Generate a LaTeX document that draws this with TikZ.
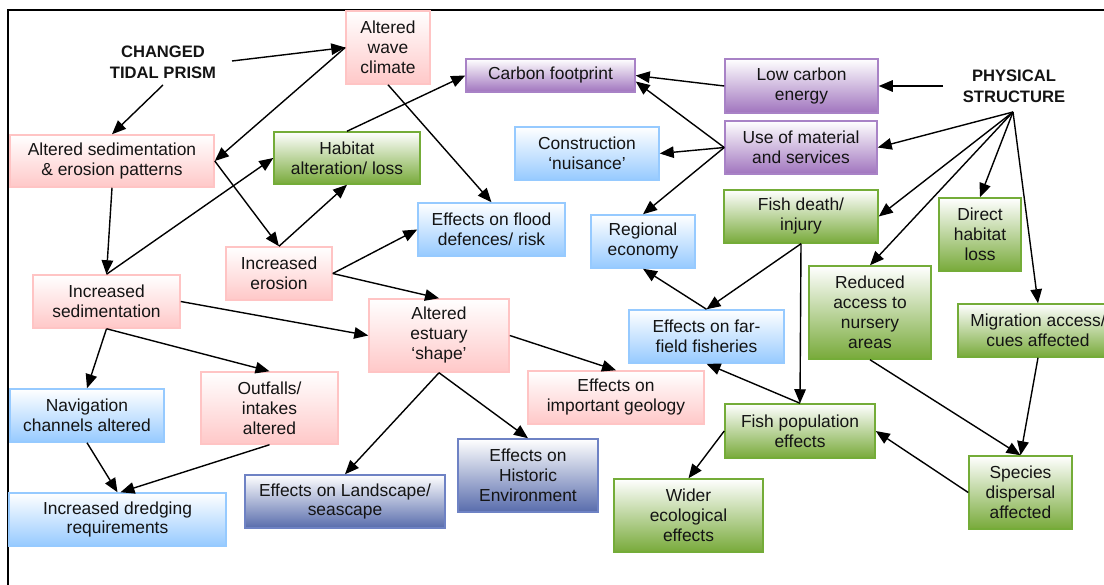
\documentclass[tikz,border=0pt]{standalone}
\usepackage{fontspec}
\setmainfont{Liberation Sans}
\usetikzlibrary{arrows.meta,calc}
\definecolor{pinkF}{RGB}{255,200,200}
\definecolor{pinkB}{RGB}{255,196,196}
\definecolor{greenF}{RGB}{120,170,58}
\definecolor{greenB}{RGB}{116,172,56}
\definecolor{blueF}{RGB}{150,202,255}
\definecolor{blueB}{RGB}{150,202,255}
\definecolor{purpleF}{RGB}{160,116,190}
\definecolor{purpleB}{RGB}{168,130,198}
\definecolor{navyF}{RGB}{88,108,172}
\definecolor{navyB}{RGB}{110,130,196}
\definecolor{txt}{RGB}{20,20,20}
\begin{document}
\begin{tikzpicture}[x=1pt,y=-1pt,
  box/.style={rectangle, align=center, inner sep=0pt, line width=1.5pt,
    font=\fontsize{17.4}{20}\selectfont, text=txt},
  pinkbox/.style={box, draw=pinkB, top color=white, bottom color=pinkF},
  greenbox/.style={box, draw=greenB, top color=white, bottom color=greenF},
  bluebox/.style={box, draw=blueB, top color=white, bottom color=blueF},
  purplebox/.style={box, draw=purpleB, top color=white, bottom color=purpleF},
  navybox/.style={box, draw=navyB, top color=white, bottom color=navyF},
  lbl/.style={align=center, inner sep=2pt, font=\fontsize{16.6}{21}\selectfont\bfseries, text=txt},
  conn/.style={-{Triangle[length=14pt,width=11.5pt]}, line width=1.4pt}
]
\useasboundingbox (0,0) rectangle (1104,585);
\draw[line width=2pt] (1104,10) -- (8,10) -- (8,585);

% labels
\node[lbl] (tidal) at (163,62) {CHANGED\\TIDAL PRISM};
\node[lbl] (phys) at (1014,86) {PHYSICAL\\STRUCTURE};
\coordinate (tidalR) at (232,61);
\coordinate (tidalB) at (163,85);
\coordinate (physL) at (943,86);
\coordinate (fan) at (1013,112);

% boxes
\node[pinkbox, minimum width=84pt, minimum height=73pt] (wave) at (388,47.5) {Altered\\wave\\climate};
\node[pinkbox, minimum width=204pt, minimum height=52pt] (altsed) at (112,161) {Altered sedimentation\\\& erosion patterns};
\node[greenbox, minimum width=146pt, minimum height=52pt] (habitat) at (347,158) {Habitat\\alteration/ loss};
\node[purplebox, minimum width=169pt, minimum height=33pt] (carbon) at (550.5,75.5) {Carbon footprint};
\node[purplebox, minimum width=153pt, minimum height=54pt] (lowcarbon) at (801.5,86) {Low carbon\\energy};
\node[purplebox, minimum width=152pt, minimum height=53pt] (usemat) at (801,147.5) {Use of material\\and services};
\node[bluebox, minimum width=144pt, minimum height=53pt] (constr) at (587,153.5) {Construction\\‘nuisance’};
\node[bluebox, minimum width=147pt, minimum height=53pt] (flood) at (491.5,229.5) {Effects on flood\\defences/ risk};
\node[bluebox, minimum width=104pt, minimum height=53pt] (regional) at (643,241.5) {Regional\\economy};
\node[greenbox, minimum width=154pt, minimum height=53pt] (fishdeath) at (801,216.5) {Fish death/\\injury};
\node[greenbox, minimum width=82pt, minimum height=73pt] (direct) at (980,234.5) {Direct\\habitat\\loss};
\node[greenbox, minimum width=122pt, minimum height=93pt] (reduced) at (870,312.5) {Reduced\\access to\\nursery\\areas};
\node[greenbox, minimum width=160pt, minimum height=53pt] (migration) at (1038,330.5) {Migration access/\\cues affected};
\node[pinkbox, minimum width=106pt, minimum height=53pt] (erosion) at (279,273.5) {Increased\\erosion};
\node[pinkbox, minimum width=147pt, minimum height=53pt] (incsed) at (106.5,301.5) {Increased\\sedimentation};
\node[pinkbox, minimum width=140pt, minimum height=73pt] (estuary) at (439,335.5) {Altered\\estuary\\‘shape’};
\node[bluebox, minimum width=155pt, minimum height=53pt] (farfield) at (706.5,336.5) {Effects on far-\\field fisheries};
\node[pinkbox, minimum width=176pt, minimum height=53pt] (geology) at (616,397.5) {Effects on\\important geology};
\node[bluebox, minimum width=154pt, minimum height=53pt] (navig) at (87,415.5) {Navigation\\channels altered};
\node[pinkbox, minimum width=137pt, minimum height=72pt] (outfalls) at (269.5,408) {Outfalls/\\intakes\\altered};
\node[bluebox, minimum width=217pt, minimum height=53pt] (dredging) at (117.5,519.5) {Increased dredging\\requirements};
\node[navybox, minimum width=200pt, minimum height=53pt] (landscape) at (345,501.5) {Effects on Landscape/\\seascape};
\node[navybox, minimum width=140pt, minimum height=73pt] (historic) at (528,475.5) {Effects on\\Historic\\Environment};
\node[greenbox, minimum width=150pt, minimum height=54pt] (fishpop) at (800,431) {Fish population\\effects};
\node[greenbox, minimum width=149pt, minimum height=73pt] (wider) at (688.5,515.5) {Wider\\ecological\\effects};
\node[greenbox, minimum width=103pt, minimum height=73pt] (species) at (1020.5,492.5) {Species\\dispersal\\affected};

% connectors
\draw[conn] (tidalR) -- (wave.west);
\draw[conn] (tidalB) -- (altsed.north);
\draw[conn] (wave.west) -- (altsed.east);
\draw[conn] (altsed.east) -- (erosion.north);
\draw[conn] (incsed.north) -- (habitat.west);
\draw[conn] (erosion.north) -- (habitat.south);
\draw[conn] (habitat.north) -- (carbon.west);
\draw[conn] (wave.south) -- (flood.north);
\draw[conn] (erosion.east) -- (flood.west);
\draw[conn] (erosion.east) -- (estuary.north);
\draw[conn] (altsed.south) -- (incsed.north);
\draw[conn] (incsed.east) -- (estuary.west);
\draw[conn] (incsed.south) -- (navig.north);
\draw[conn] (incsed.south) -- (outfalls.north);
\draw[conn] (navig.south) -- (dredging.north);
\draw[conn] (outfalls.south) -- ($(dredging.north)+(3,0)$);
\draw[conn] (estuary.south) -- (landscape.north);
\draw[conn] (estuary.south) -- (historic.north);
\draw[conn] (estuary.east) -- (geology.north);
\draw[conn] (lowcarbon.west) -- (carbon.east);
\draw[conn] (usemat.west) -- ($(carbon.east)+(0,6)$);
\draw[conn] (usemat.west) -- (constr.east);
\draw[conn] (usemat.west) -- (regional.north);
\draw[conn] (physL) -- (lowcarbon.east);
\draw[conn] (fan) -- (usemat.east);
\draw[conn] (fan) -- (fishdeath.east);
\draw[conn] (fan) -- (reduced.north);
\draw[conn] (fan) -- (direct.north);
\draw[conn] (fan) -- (migration.north);
\draw[conn] (fishdeath.south) -- (fishpop.north);
\draw[conn] (fishdeath.south) -- (farfield.north);
\draw[conn] (farfield.north) -- (regional.south);
\draw[conn] (fishpop.north) -- (farfield.south);
\draw[conn] (fishpop.west) -- (wider.north);
\draw[conn] (species.west) -- (fishpop.east);
\draw[conn] (reduced.south) -- (species.north);
\draw[conn] (migration.south) -- (species.north);
\end{tikzpicture}
\end{document}
